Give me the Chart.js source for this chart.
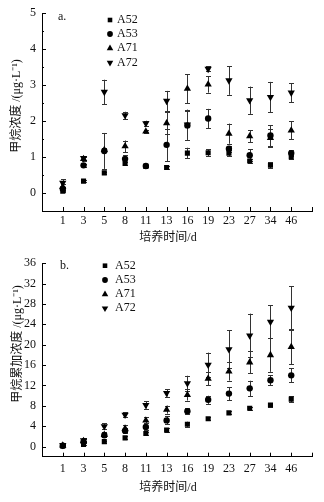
<!DOCTYPE html>
<html>
<head>
<meta charset="utf-8">
<script src="https://cdn.jsdelivr.net/npm/chart.js@4.4.1/dist/chart.umd.min.js"></script>
<style>
html, body { margin: 0; padding: 0; background: #fff; }
canvas { display: block; }
</style>
</head>
<body>
<canvas id="chartA" width="324" height="250"></canvas>
<canvas id="chartB" width="324" height="252"></canvas>
<script>
var days = ["1", "3", "5", "8", "11", "13", "16", "19", "23", "27", "34", "46"];
var seriesNames = ["A52", "A53", "A71", "A72"];

// a. 甲烷浓度
var concA52 = [0.05, 0.33, 0.56, 0.82, 0.74, 0.71, 1.11, 1.12, 1.11, 0.89, 0.77, 1.00];
var concA53 = [0.12, 0.77, 1.17, 0.95, 0.75, 1.34, 1.88, 2.07, 1.23, 1.05, 1.60, 1.11];
var concA71 = [0.17, 0.95, 1.20, 1.30, 1.71, 1.94, 2.90, 3.02, 1.65, 1.58, 1.53, 1.74];
var concA72 = [0.28, 0.97, 2.81, 2.16, 1.94, 2.56, 1.90, 3.45, 3.13, 2.58, 2.67, 2.79];
var concErrA52 = [0.03, 0.03, 0.03, 0.05, 0.03, 0.03, 0.15, 0.10, 0.08, 0.06, 0.08, 0.06];
var concErrA53 = [0.05, 0.05, 0.50, 0.10, 0.04, 0.45, 0.40, 0.27, 0.08, 0.17, 0.28, 0.08];
var concErrA71 = [0.08, 0.05, 0.05, 0.16, 0.05, 0.30, 0.40, 0.23, 0.28, 0.17, 0.25, 0.25];
var concErrA72 = [0.10, 0.05, 0.34, 0.10, 0.07, 0.28, 0.42, 0.07, 0.40, 0.38, 0.42, 0.26];
var concTicks = [-0.5, 0, 0.5, 1, 1.5, 2, 2.5, 3, 3.5, 4, 4.5, 5];

// b. 甲烷累加浓度
var cumA52 = [0.10, 0.40, 0.96, 1.70, 2.55, 3.21, 4.37, 5.46, 6.61, 7.50, 8.15, 9.30];
var cumA53 = [0.15, 0.88, 2.20, 3.08, 3.85, 5.13, 6.95, 9.17, 10.39, 11.42, 13.02, 13.98];
var cumA71 = [0.20, 1.10, 2.30, 3.53, 5.13, 7.25, 10.13, 13.35, 14.75, 16.54, 17.96, 19.56];
var cumA72 = [0.30, 1.20, 3.98, 6.23, 8.15, 10.50, 12.40, 16.04, 19.10, 21.80, 24.50, 27.25];
var cumErrA52 = [0.10, 0.20, 0.20, 0.30, 0.30, 0.40, 0.50, 0.30, 0.30, 0.30, 0.40, 0.60];
var cumErrA53 = [0.15, 0.20, 0.40, 0.50, 0.70, 0.80, 0.60, 0.80, 1.30, 1.50, 1.00, 1.40];
var cumErrA71 = [0.20, 0.30, 0.50, 0.60, 0.60, 0.80, 1.10, 1.35, 1.80, 2.20, 3.30, 3.40];
var cumErrA72 = [0.30, 0.40, 0.60, 0.50, 0.70, 0.70, 1.50, 2.40, 3.70, 4.30, 3.20, 4.20];
var cumTicks = [-2, 0, 4, 8, 12, 16, 20, 24, 28, 32, 36];

var FONT = "'Liberation Serif', 'Noto Sans CJK SC', serif";
Chart.defaults.font.family = FONT;
Chart.defaults.font.size = 12;
Chart.defaults.color = '#111';

var markers = [
  { pointStyle: 'rect', radius: 3.6, rotation: 0 },
  { pointStyle: 'circle', radius: 3.2, rotation: 0 },
  { pointStyle: 'triangle', radius: 4.2, rotation: 0 },
  { pointStyle: 'triangle', radius: 4.2, rotation: 180 }
];

function buildDatasets(values, errs) {
  return values.map(function (vals, k) {
    return {
      label: seriesNames[k],
      data: vals.map(function (v, i) { return { x: i + 1, y: v }; }),
      errors: errs[k],
      showLine: false,
      pointStyle: markers[k].pointStyle,
      pointRadius: markers[k].radius,
      pointHoverRadius: markers[k].radius,
      pointRotation: markers[k].rotation,
      pointBackgroundColor: '#000',
      pointBorderColor: '#000',
      pointBorderWidth: 0
    };
  });
}

// error bars under the markers
var errorBars = {
  id: 'errorBars',
  beforeDatasetsDraw: function (chart) {
    var ctx = chart.ctx, ys = chart.scales.y;
    ctx.save();
    ctx.strokeStyle = '#333';
    ctx.lineWidth = 1;
    chart.data.datasets.forEach(function (ds, k) {
      var meta = chart.getDatasetMeta(k);
      meta.data.forEach(function (pt, i) {
        var v = ds.data[i].y, e = ds.errors[i];
        var yt = ys.getPixelForValue(v + e), yb = ys.getPixelForValue(v - e);
        var x = Math.round(pt.x) + 0.5;
        ctx.beginPath();
        ctx.moveTo(x, yt); ctx.lineTo(x, yb);
        ctx.moveTo(x - 2.5, Math.round(yt) + 0.5); ctx.lineTo(x + 2.5, Math.round(yt) + 0.5);
        ctx.moveTo(x - 2.5, Math.round(yb) + 0.5); ctx.lineTo(x + 2.5, Math.round(yb) + 0.5);
        ctx.stroke();
      });
    });
    ctx.restore();
  }
};

// inward ticks, titles, legend, panel letter
var decor = {
  id: 'decor',
  afterDraw: function (chart, args, o) {
    var ctx = chart.ctx, xs = chart.scales.x, ys = chart.scales.y, area = chart.chartArea;
    ctx.save();
    ctx.strokeStyle = '#000';
    ctx.lineWidth = 1;
    ctx.beginPath();
    ys.ticks.forEach(function (t) {
      if (t.value <= ys.min) return;
      var y = Math.round(ys.getPixelForValue(t.value)) + 0.5;
      var len = o.isMajor(t.value) ? 4 : 2;
      ctx.moveTo(area.left, y); ctx.lineTo(area.left + len, y);
    });
    xs.ticks.forEach(function (t) {
      if (t.value <= xs.min) return;
      var x = Math.round(xs.getPixelForValue(t.value)) + 0.5;
      ctx.moveTo(x, area.bottom); ctx.lineTo(x, area.bottom - 4);
    });
    ctx.stroke();

    ctx.fillStyle = '#111';
    ctx.font = '12px ' + FONT;
    ctx.textBaseline = 'middle';
    ctx.textAlign = 'left';
    ctx.fillText(o.letter, o.letterX, o.letterY);

    // legend
    chart.data.datasets.forEach(function (ds, k) {
      var y = o.legendRows[k];
      ctx.fillStyle = '#000';
      Chart.helpers.drawPoint(ctx, {
        pointStyle: ds.pointStyle, rotation: ds.pointRotation,
        radius: ds.pointRadius * 0.9, borderWidth: 0
      }, o.legendX, y);
      ctx.fillStyle = '#111';
      ctx.fillText(ds.label, o.legendTextX, y);
    });

    // axis titles
    ctx.textAlign = 'center';
    ctx.fillText(o.xTitle, o.xTitleX, o.xTitleY);
    ctx.translate(o.yTitleX, o.yTitleY);
    ctx.rotate(-Math.PI / 2);
    ctx.fillText(o.yTitle, 0, 0);
    ctx.restore();
  }
};

function makeChart(id, datasets, yTicks, yLabel, isMajor, pad, xHeight, xPad, decorOpts) {
  return new Chart(document.getElementById(id), {
    type: 'scatter',
    data: { datasets: datasets },
    options: {
      responsive: false,
      animation: false,
      devicePixelRatio: 1,
      layout: { padding: pad },
      plugins: { legend: { display: false }, tooltip: { enabled: false }, decor: decorOpts },
      scales: {
        x: {
          type: 'linear', min: 0, max: 13,
          grid: { display: false, drawTicks: false },
          border: { display: true, color: '#000', width: 1 },
          ticks: {
            stepSize: 1, autoSkip: false, maxRotation: 0, padding: xPad, color: '#111',
            callback: function (v) { return days[v - 1] || ''; }
          },
          afterFit: function (s) { s.height = xHeight; }
        },
        y: {
          min: yTicks[0], max: yTicks[yTicks.length - 1],
          grid: { display: false, drawTicks: false },
          border: { display: true, color: '#000', width: 1 },
          ticks: { autoSkip: false, padding: 6, color: '#111', callback: yLabel },
          afterBuildTicks: function (s) {
            s.ticks = yTicks.map(function (v) { return { value: v }; });
          },
          afterFit: function (s) { s.width = 42; }
        }
      }
    },
    plugins: [errorBars, decor]
  });
}

function isWhole(v) { return Math.abs(v - Math.round(v)) < 1e-6; }

makeChart('chartA',
  buildDatasets([concA52, concA53, concA71, concA72], [concErrA52, concErrA53, concErrA71, concErrA72]),
  concTicks,
  function (v) { return (v >= 0 && isWhole(v)) ? String(Math.round(v)) : ''; },
  isWhole,
  { top: 13, right: 12, left: 0, bottom: 0 }, 39, 3,
  {
    letter: 'a.', letterX: 58, letterY: 17,
    legendX: 110, legendTextX: 117, legendRows: [20, 34, 48.3, 62.7],
    xTitle: '培养时间/d', xTitleX: 168, xTitleY: 238,
    yTitle: '甲烷浓度 /(μg·L⁻¹)', yTitleX: 17, yTitleY: 106,
    isMajor: isWhole
  });

makeChart('chartB',
  buildDatasets([cumA52, cumA53, cumA71, cumA72], [cumErrA52, cumErrA53, cumErrA71, cumErrA72]),
  cumTicks,
  function (v) { return v >= 0 ? String(v) : ''; },
  function () { return true; },
  { top: 9.5, right: 12, left: 0, bottom: 0 }, 45.3, 5,
  {
    letter: 'b.', letterX: 60, letterY: 16,
    legendX: 105, legendTextX: 115, legendRows: [15.7, 30, 44.3, 58.3],
    xTitle: '培养时间/d', xTitleX: 168, xTitleY: 238,
    yTitle: '甲烷累加浓度 /(μg·L⁻¹)', yTitleX: 18, yTitleY: 94,
    isMajor: function () { return true; }
  });
</script>
</body>
</html>
